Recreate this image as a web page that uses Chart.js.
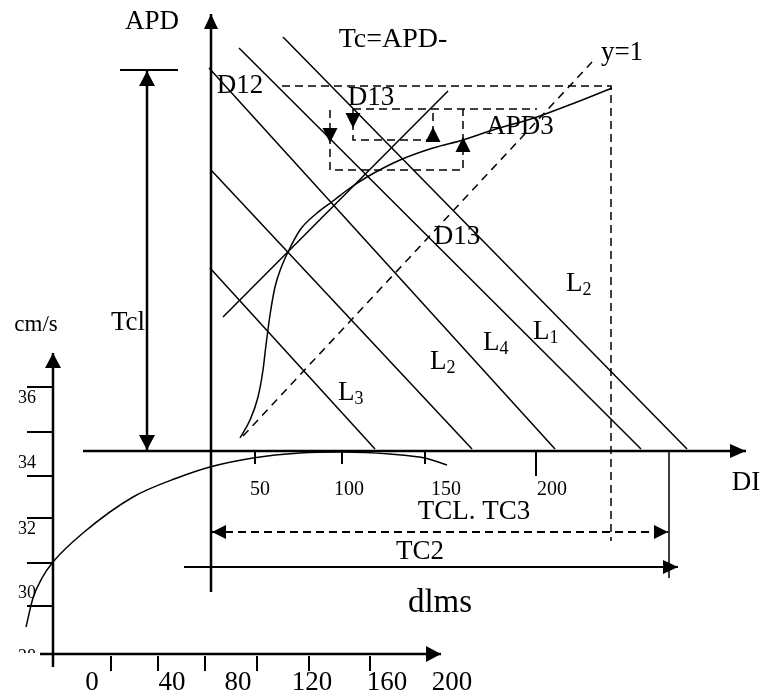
<!DOCTYPE html>
<html><head><meta charset="utf-8">
<script src="https://cdn.jsdelivr.net/npm/chart.js@4/dist/chart.umd.min.js"></script>
<style>html,body{margin:0;padding:0;background:#fff}#wrap{width:764px;height:695px;position:relative}</style>
</head><body><div id="wrap"><canvas id="c" width="764" height="695"></canvas></div>
<script>
// ---------------- DATA (sketch units on a 764 x 695 sheet, y downward) ----------------
// main restitution diagram
const apdAxis = [[211,592],[211,14]];
const diAxis = [[83,451],[746,451]];
const diTickPos = [255,342,425,536];
const diTickEnd = [464,464,464,476];
const diTickLabels = ['50','100','150','200'];
const diTickLabelPos = [260,349,446,552];
const restitutionCurve = [[240,438],[250,420],[258,397],[263,370],[266,345],[270,315],[275,287],[281,268],[288,252],[300,230],[317,213],[333,201],[350,188],[367,177],[400,160],[433,148],[463,140],[493,130],[537,117],[577,102],[612,88]];
const identityLine = [[243,436],[592,62]];          // y=1
const risingLine = [[223,317],[448,91]];
const pacingLineA = [[283,37],[687,449]];           // L2
const pacingLineB = [[239,48],[641,449]];           // L1
const pacingLineC = [[209,68],[555,449]];           // L4 (D12)
const pacingLineD = [[211,170],[472,449]];          // L2
const pacingLineE = [[210,268],[375,449]];          // L3
const tclBar = [[120,70],[178,70]];
const tclArrow = [[147,71],[147,450]];
const dashedFrame = [[282,86],[611,86],[611,541]];
const dashedBox = [
  [[330,110],[330,170],[463,170],[463,109]],
  [[353,109],[537,109]],
  [[353,109],[353,140],[433,140],[433,109]]
];
const boxArrows = [[[330,120],[330,143]],[[353,110],[353,128]],[[433,145],[433,127]],[[463,155],[463,137]]];
const tclTc3Arrow = [[212,532],[668,532]];
const tc2Arrow = [[184,567],[678,567]];
const tc2Stop = [[669,451],[669,578]];
// conduction-velocity inset (dlms vs cm/s)
const velYAxis = [[53,667],[53,353]];
const velXAxis = [[40,654],[441,654]];
const velYTickPos = [387,432,476,518,563,606];
const velYLabels = ['36','34','32','30','28'];
const velYLabelPos = [398,463,529,593,657];
const velXTickPos = [111,158,205,257,309,370];
const velXLabels = ['0','40','80','120','160','200'];
const velXLabelPos = [92,172,238,312,387,452];
const velocityCurve = [[26,627],[33,598],[42,578],[53,562],[83,533],[133,497],[177,478],[210,467],[253,458],[300,453],[342,452],[390,454],[425,458],[447,465]];

// ---------------- build datasets ----------------
const pts = a => a.map(p => ({x:p[0], y:p[1]}));
const datasets = [];
function line(a, o) {
  datasets.push(Object.assign({data: pts(a), showLine: true, borderColor: '#000', borderWidth: 1.5,
    pointRadius: 0, pointHoverRadius: 0, fill: false, tension: 0}, o || {}));
}
const DASH = [8,5];
line(apdAxis, {borderWidth: 2.5, arrowEnd: [15,7]});
line(diAxis, {borderWidth: 2.5, arrowEnd: [16,7]});
diTickPos.forEach((x,i) => line([[x,451],[x,diTickEnd[i]]], {borderWidth: 2}));
line(restitutionCurve, {cubicInterpolationMode: 'monotone'});
line(identityLine, {borderDash: [8,6]});
line(risingLine);
[pacingLineA, pacingLineB, pacingLineC, pacingLineD, pacingLineE].forEach(l => line(l));
line(tclBar, {borderWidth: 2});
line(tclArrow, {borderWidth: 2.5, arrowEnd: [15,8], arrowStart: [15,8]});
line(dashedFrame, {borderDash: DASH});
dashedBox.forEach(b => line(b, {borderDash: DASH}));
boxArrows.forEach(b => line(b, {borderWidth: 0, showLine: false, arrowEnd: [15,7.5]}));
line(tclTc3Arrow, {borderDash: DASH, borderWidth: 2, arrowEnd: [14,7], arrowStart: [14,7]});
line(tc2Arrow, {borderWidth: 2, arrowEnd: [15,7]});
line(tc2Stop, {borderWidth: 1.5});
line(velYAxis, {borderWidth: 2.5, arrowEnd: [15,8]});
line(velXAxis, {borderWidth: 2.5, arrowEnd: [15,8]});
velYTickPos.forEach(y => line([[27,y],[53,y]], {borderWidth: 2}));
velXTickPos.forEach(x => line([[x,656],[x,671]], {borderWidth: 2}));
line(velocityCurve, {cubicInterpolationMode: 'monotone'});

// ---------------- text annotations ----------------
const SERIF = '"Liberation Serif","Times New Roman",serif';
const texts = [
  {t:'APD', x:152, y:22, s:27}, {t:'Tc=APD-', x:393, y:40, s:28}, {t:'y=1', x:622, y:53, s:27},
  {t:'D12', x:240, y:86, s:27}, {t:'D13', x:371, y:98, s:27}, {t:'APD3', x:520, y:127, s:27},
  {t:'D13', x:457, y:237, s:27}, {t:'Tcl', x:128, y:323, s:27}, {t:'DI', x:746, y:483, s:27},
  {t:'TCL. TC3', x:474, y:512, s:27}, {t:'TC2', x:420, y:552, s:27},
  {t:'cm/s', x:36, y:325, s:23}, {t:'dlms', x:440, y:603, s:33}
];
diTickLabels.forEach((t,i) => texts.push({t, x:diTickLabelPos[i], y:490, s:20}));
velYLabels.forEach((t,i) => texts.push({t, x:27, y:velYLabelPos[i], s:18, clipY: i === 4 ? 653 : null}));
velXLabels.forEach((t,i) => texts.push({t, x:velXLabelPos[i], y:683, s:27}));
const subLabels = [
  {t:'L', sub:'2', x:566, y:284}, {t:'L', sub:'1', x:533, y:332}, {t:'L', sub:'4', x:483, y:343},
  {t:'L', sub:'2', x:430, y:362}, {t:'L', sub:'3', x:338, y:393}
];

// ---------------- plugins ----------------
const bgPlugin = {id:'bg', beforeDraw(c){const x=c.ctx; x.save(); x.fillStyle='#fff'; x.fillRect(0,0,c.width,c.height); x.restore();}};
function head(ctx, tip, from, len, hw) {
  const dx = tip.x - from.x, dy = tip.y - from.y, d = Math.hypot(dx,dy) || 1;
  const ux = dx/d, uy = dy/d, bx = tip.x - ux*len, by = tip.y - uy*len;
  ctx.beginPath(); ctx.moveTo(tip.x, tip.y);
  ctx.lineTo(bx - uy*hw, by + ux*hw); ctx.lineTo(bx + uy*hw, by - ux*hw); ctx.closePath(); ctx.fill();
}
const arrowPlugin = {id:'arrows', afterDatasetsDraw(c){
  const ctx = c.ctx; ctx.save(); ctx.fillStyle = '#000';
  c.data.datasets.forEach((ds,i) => {
    const p = c.getDatasetMeta(i).data; if (p.length < 2) return;
    if (ds.arrowEnd) head(ctx, p[p.length-1], p[p.length-2], ds.arrowEnd[0], ds.arrowEnd[1]);
    if (ds.arrowStart) head(ctx, p[0], p[1], ds.arrowStart[0], ds.arrowStart[1]);
  });
  ctx.restore();
}};
const textPlugin = {id:'texts', afterDatasetsDraw(c){
  const ctx = c.ctx, sx = c.scales.x, sy = c.scales.y;
  ctx.save(); ctx.fillStyle = '#000'; ctx.textBaseline = 'middle';
  texts.forEach(o => {
    ctx.save();
    if (o.clipY) { ctx.beginPath(); ctx.rect(0,0,c.width,sy.getPixelForValue(o.clipY)); ctx.clip(); }
    ctx.font = o.s + 'px ' + SERIF; ctx.textAlign = 'center';
    ctx.fillText(o.t, sx.getPixelForValue(o.x), sy.getPixelForValue(o.y));
    ctx.restore();
  });
  subLabels.forEach(o => {
    const px = sx.getPixelForValue(o.x), py = sy.getPixelForValue(o.y);
    ctx.textAlign = 'left'; ctx.font = '27px ' + SERIF; ctx.fillText(o.t, px, py);
    const w = ctx.measureText(o.t).width;
    ctx.font = '18px ' + SERIF; ctx.fillText(o.sub, px + w, py + 6);
  });
  ctx.restore();
}};

new Chart(document.getElementById('c'), {
  type: 'scatter',
  data: {datasets},
  options: {
    responsive: false, animation: false, events: [],
    layout: {padding: 0},
    plugins: {legend: {display: false}, tooltip: {enabled: false}},
    scales: {
      x: {type: 'linear', min: 0, max: 764, display: false},
      y: {type: 'linear', min: 0, max: 695, reverse: true, display: false}
    }
  },
  plugins: [bgPlugin, arrowPlugin, textPlugin]
});
</script></body></html>
